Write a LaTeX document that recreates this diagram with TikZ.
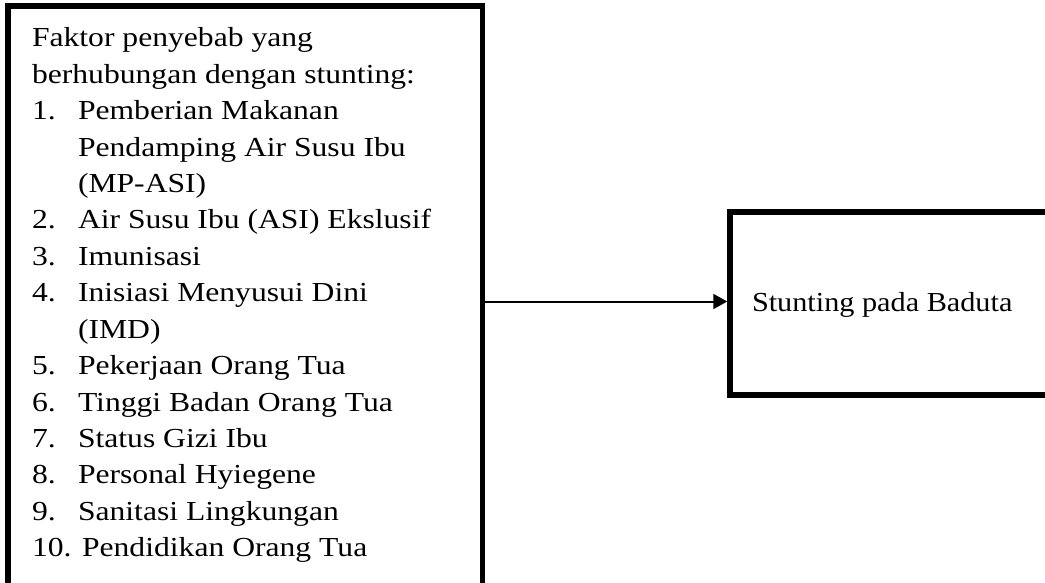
\documentclass[tikz,border=0pt]{standalone}
\usepackage{fontspec}
\setmainfont[FakeStretch=1.15]{Liberation Serif}
\newfontfamily\rightfont[FakeStretch=1.1]{Liberation Serif}
\usetikzlibrary{arrows.meta}
\begin{document}
\begin{tikzpicture}[x=1pt,y=-1pt,
  box/.style={draw, line width=5.5pt, inner sep=0pt, outer sep=0pt, anchor=north west},
  txt/.style={anchor=base west, inner sep=0pt, outer sep=0pt, font=\fontsize{27.5}{33}\selectfont}]
\useasboundingbox (0,0) rectangle (1045,583);
\clip (0,0) rectangle (1045,583);
\node[box, minimum width=474.5pt, minimum height=640pt] (left) at (8,6) {};
\node[box, minimum width=340pt, minimum height=183pt] (right) at (730,212) {};
\coordinate (ay) at (0,301.5);
\draw[line width=2pt, -{Triangle[length=14pt,width=15pt]}, shorten >=2.75pt] (left.east |- ay) -- (right.west |- ay);
\node[txt, font=\rightfont\fontsize{27.5}{33}\selectfont] (s) at (752,311) {Stunting pada Baduta};
% left text
\node[txt] (t1) at (32,47) {Faktor penyebab yang};
\node[txt] (t2) at (32,83.4) {berhubungan dengan stunting:};
\node[txt] (n1) at (32,119.8) {1.};
\node[txt] (i1) at (78,119.8) {Pemberian Makanan};
\node[txt] (i1b) at (78,156.2) {Pendamping Air Susu Ibu};
\node[txt] (i1c) at (78,192.6) {(MP-ASI)};
\node[txt] (n2) at (32,229) {2.};
\node[txt] (i2) at (78,229) {Air Susu Ibu (ASI) Ekslusif};
\node[txt] (n3) at (32,265.4) {3.};
\node[txt] (i3) at (78,265.4) {Imunisasi};
\node[txt] (n4) at (32,301.8) {4.};
\node[txt] (i4) at (78,301.8) {Inisiasi Menyusui Dini};
\node[txt] (i4b) at (78,338.2) {(IMD)};
\node[txt] (n5) at (32,374.6) {5.};
\node[txt] (i5) at (78,374.6) {Pekerjaan Orang Tua};
\node[txt] (n6) at (32,411) {6.};
\node[txt] (i6) at (78,411) {Tinggi Badan Orang Tua};
\node[txt] (n7) at (32,447.4) {7.};
\node[txt] (i7) at (78,447.4) {Status Gizi Ibu};
\node[txt] (n8) at (32,483.8) {8.};
\node[txt] (i8) at (78,483.8) {Personal Hyiegene};
\node[txt] (n9) at (32,520.2) {9.};
\node[txt] (i9) at (78,520.2) {Sanitasi Lingkungan};
\node[txt] (n10) at (32,556.6) {10. Pendidikan Orang Tua};
\end{tikzpicture}
\end{document}
